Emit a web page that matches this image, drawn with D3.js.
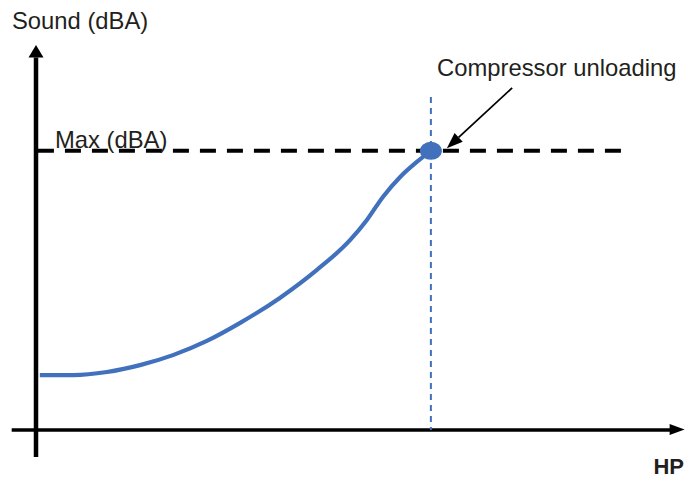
<!DOCTYPE html>
<html><head><meta charset="utf-8">
<script src="https://cdn.jsdelivr.net/npm/d3@7"></script>
<style>body{margin:0;background:#fff}svg{display:block}text{font-family:"Liberation Sans",Arial,sans-serif;fill:#231f20}</style>
</head><body><svg id="c" width="698" height="480"></svg>
<script>
// Data (HP in arbitrary units, Sound in arbitrary dBA units)
const hpValues    = [0.6, 5.8, 11.1, 16.25, 21.4, 26.7, 31.9, 38.1, 43.9, 49.1, 51.7, 54.2, 56.9, 59.5, 61.7];
const soundValues = [14.3, 14.3, 15.1, 16.9, 19.5, 23.2, 27.9, 34.4, 41.7, 49.5, 54.7, 60.7, 65.9, 69.8, 72.7];
const maxLevel = 72.7;
const unloadHP = 61.7;
const labels = {y: "Sound (dBA)", x: "HP", max: "Max (dBA)", note: "Compressor unloading"};

const svg = d3.select("#c");
const x = d3.scaleLinear().domain([0, 100]).range([36, 676]);
const y = d3.scaleLinear().domain([0, 100]).range([430, 46]);
const blue = "#4170bd";

// axes
svg.append("line").attr("x1", x(-3.8)).attr("x2", x(99.5)).attr("y1", y(0)).attr("y2", y(0))
  .attr("stroke", "#000").attr("stroke-width", 3.5);
svg.append("path").attr("d", `M${x(99)},${y(0)-6}L${x(99)+15},${y(0)-0.5}L${x(99)},${y(0)+5}Z`).attr("fill", "#000");
svg.append("line").attr("x1", x(0)).attr("x2", x(0)).attr("y1", y(-7)).attr("y2", y(97))
  .attr("stroke", "#000").attr("stroke-width", 4.5);
svg.append("path").attr("d", `M${x(0)-7.5},${y(97)}L${x(0)},${y(100)-1}L${x(0)+7.5},${y(97)}Z`).attr("fill", "#000");

// max dashed line
svg.append("line").attr("x1", x(0.3)).attr("x2", x(92)).attr("y1", y(maxLevel)).attr("y2", y(maxLevel))
  .attr("stroke", "#000").attr("stroke-width", 4).attr("stroke-dasharray", "16,11");

// vertical dashed
svg.append("line").attr("x1", x(unloadHP)).attr("x2", x(unloadHP)).attr("y1", y(86.7)).attr("y2", y(0))
  .attr("stroke", blue).attr("stroke-width", 2).attr("stroke-dasharray", "6,5");

// curve
const pts = hpValues.map((h, i) => [h, soundValues[i]]);
svg.append("path").datum(pts)
  .attr("d", d3.line().x(d => x(d[0])).y(d => y(d[1])).curve(d3.curveMonotoneX))
  .attr("fill", "none").attr("stroke", blue).attr("stroke-width", 4.2).attr("stroke-linecap", "butt");

// point
svg.append("ellipse").attr("cx", x(unloadHP)).attr("cy", y(maxLevel)).attr("rx", 11).attr("ry", 9).attr("fill", blue);

// annotation arrow
const ax1 = x(74.4), ay1 = y(89.1), ax2 = x(64.2), ay2 = y(73.4);
const ang = Math.atan2(ay2 - ay1, ax2 - ax1);
const hl = 16, hw = 6;
const bx = ax2 - hl * Math.cos(ang), by = ay2 - hl * Math.sin(ang);
svg.append("line").attr("x1", ax1).attr("y1", ay1).attr("x2", bx).attr("y2", by).attr("stroke", "#000").attr("stroke-width", 1.8);
svg.append("path").attr("d", `M${ax2},${ay2}L${bx - hw*Math.sin(ang)},${by + hw*Math.cos(ang)}L${bx + hw*Math.sin(ang)},${by - hw*Math.cos(ang)}Z`).attr("fill", "#000");

// texts
svg.append("text").attr("x", 12).attr("y", 29).attr("font-size", 23.8).text(labels.y);
svg.append("text").attr("x", 55).attr("y", 148).attr("font-size", 23.8).text(labels.max);
svg.append("text").attr("x", 437).attr("y", 76).attr("font-size", 23.8).text(labels.note);
svg.append("text").attr("x", 684).attr("y", 474).attr("font-size", 22).attr("font-weight", "bold").attr("text-anchor", "end").text(labels.x);
</script></body></html>
